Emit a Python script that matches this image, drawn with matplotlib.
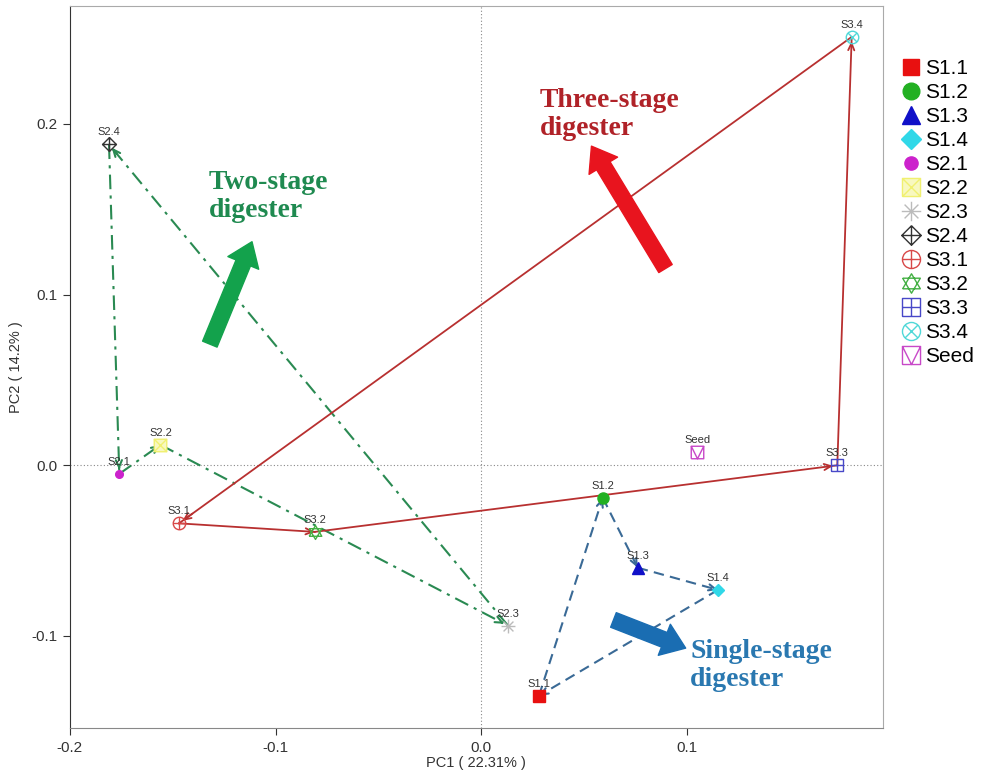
import matplotlib
matplotlib.use("Agg")
import matplotlib.pyplot as plt
from matplotlib.path import Path
from matplotlib.lines import Line2D
from matplotlib.ticker import FormatStrFormatter

plt.rcParams["font.family"] = ["Liberation Sans", "DejaVu Sans"]

# PCA scores for each sample
samples = ["S1.1", "S1.2", "S1.3", "S1.4", "S2.1", "S2.2", "S2.3", "S2.4",
           "S3.1", "S3.2", "S3.3", "S3.4", "Seed"]
pc1 = [0.028, 0.059, 0.076, 0.115, -0.176, -0.156, 0.013, -0.181,
       -0.147, -0.081, 0.173, 0.180, 0.105]
pc2 = [-0.135, -0.019, -0.060, -0.073, -0.005, 0.012, -0.094, 0.188,
       -0.034, -0.039, 0.000, 0.251, 0.008]

# sampling order of each digester
single_path = ["S1.1", "S1.2", "S1.3", "S1.4", "S1.1"]
two_path = ["S2.1", "S2.2", "S2.3", "S2.4", "S2.1"]
three_path = ["S3.1", "S3.2", "S3.3", "S3.4", "S3.1"]

x_ticks = [-0.2, -0.1, 0.0, 0.1]
y_ticks = [-0.1, 0.0, 0.1, 0.2]


def seg(*pts):
    verts, codes = [], []
    for i, p in enumerate(pts):
        verts.append(p)
        codes.append(Path.MOVETO if i == 0 else Path.LINETO)
    return Path(verts, codes)


def compound(*paths):
    return Path.make_compound_path(*paths)


square = seg((-1, -1), (1, -1), (1, 1), (-1, 1), (-1, -1))
circle = Path.unit_circle()
plus = compound(seg((-1, 0), (1, 0)), seg((0, -1), (0, 1)))
cross = compound(seg((-0.71, -0.71), (0.71, 0.71)), seg((-0.71, 0.71), (0.71, -0.71)))
sq_cross = compound(seg((-1, -1), (1, 1)), seg((-1, 1), (1, -1)))

m_boxx = compound(square, sq_cross)
m_star = compound(plus, cross)
m_diaplus = compound(seg((0, 1), (1, 0), (0, -1), (-1, 0), (0, 1)), plus)
m_circplus = compound(circle, plus)
m_hex = compound(seg((-1, -0.6), (1, -0.6), (0, 1.1), (-1, -0.6)),
                 seg((-1, 0.6), (1, 0.6), (0, -1.1), (-1, 0.6)))
m_sqplus = compound(square, plus)
m_circx = compound(circle, cross)
m_sqtri = compound(square, seg((-1, 1), (0, -1), (1, 1)))

# marker, colour, size, face
styles = {
    "S1.1": ("s", "#e81010", 8, "#e81010"),
    "S1.2": ("o", "#22b022", 8, "#22b022"),
    "S1.3": ("^", "#1010c8", 9, "#1010c8"),
    "S1.4": ("D", "#30d8e8", 6, "#30d8e8"),
    "S2.1": ("o", "#cc22cc", 5.5, "#cc22cc"),
    "S2.2": (m_boxx, "#f0f070", 9, "#f8f8c0"),
    "S2.3": (m_star, "#bbbbbb", 10, "none"),
    "S2.4": (m_diaplus, "#333333", 10, "none"),
    "S3.1": (m_circplus, "#d84848", 9, "none"),
    "S3.2": (m_hex, "#44b044", 10, "none"),
    "S3.3": (m_sqplus, "#4848c8", 9, "none"),
    "S3.4": (m_circx, "#50d8d8", 9, "none"),
    "Seed": (m_sqtri, "#c848c8", 9, "none"),
}

pos = {s: (x, y) for s, x, y in zip(samples, pc1, pc2)}

fig = plt.figure(figsize=(9.85, 7.73), dpi=100)
ax = fig.add_axes([0.071, 0.058, 0.825, 0.934])
ax.set_xlim(-0.2, 0.195)
ax.set_ylim(-0.154, 0.269)

ax.axhline(0, color="#888888", lw=0.8, ls=(0, (1, 2)), zorder=1)
ax.axvline(0, color="#888888", lw=0.8, ls=(0, (1, 2)), zorder=1)


def draw_path(order, color, ls, lw):
    for a, b in zip(order[:-1], order[1:]):
        (x0, y0), (x1, y1) = pos[a], pos[b]
        ax.plot([x0, x1], [y0, y1], color=color, ls=ls, lw=lw, zorder=2)
        ax.annotate("", xy=(x1, y1), xytext=(x1 - 0.02 * (x1 - x0), y1 - 0.02 * (y1 - y0)),
                    arrowprops=dict(arrowstyle="->,head_length=0.5,head_width=0.22",
                                    color=color, lw=lw, shrinkA=0, shrinkB=3),
                    zorder=3)


draw_path(single_path, "#3a6a96", (0, (5, 3)), 1.5)
draw_path(two_path, "#2a8a52", (0, (7, 3, 1.5, 3)), 1.5)
draw_path(three_path, "#b83030", "-", 1.3)

for s in samples:
    m, c, ms, face = styles[s]
    x, y = pos[s]
    ax.plot(x, y, marker=m, ms=ms, color=c, mfc=face,
            mec=c, mew=1.0, ls="none", zorder=4)
    ax.annotate(s, (x, y), xytext=(0, 5), textcoords="offset points",
                ha="center", va="bottom", fontsize=8, color="#333333", zorder=5)

# big arrows showing the direction of each digester
big = "simple,head_length=1.1,head_width=1.6,tail_width=0.75"
ax.annotate("", xy=(-0.1115, 0.131), xytext=(-0.132, 0.071),
            arrowprops=dict(arrowstyle=big, color="#13a24c", mutation_scale=15, shrinkA=0, shrinkB=0))
ax.annotate("", xy=(0.0535, 0.187), xytext=(0.0895, 0.1153),
            arrowprops=dict(arrowstyle=big, color="#e8141e", mutation_scale=15, shrinkA=0, shrinkB=0))
ax.annotate("", xy=(0.0993, -0.1071), xytext=(0.0642, -0.0906),
            arrowprops=dict(arrowstyle=big, color="#1a6db2", mutation_scale=15, shrinkA=0, shrinkB=0))

tfont = dict(family="Liberation Serif", fontweight="bold", fontsize=20,
             ha="left", va="top", linespacing=1.15)
ax.text(-0.1325, 0.173, "Two-stage\ndigester", color="#1f8a50", **tfont)
ax.text(0.0285, 0.221, "Three-stage\ndigester", color="#b02228", **tfont)
ax.text(0.1015, -0.102, "Single-stage\ndigester", color="#2a78b0", **tfont)

ax.set_xticks(x_ticks)
ax.set_yticks(y_ticks)
ax.xaxis.set_major_formatter(FormatStrFormatter("%.1f"))
ax.yaxis.set_major_formatter(FormatStrFormatter("%.1f"))
ax.tick_params(labelsize=11, colors="#333333", length=5, pad=4)
ax.set_xlabel("PC1 ( 22.31% )", fontsize=10.5, color="#333333", labelpad=1)
ax.set_ylabel("PC2 ( 14.2% )", fontsize=10.5, color="#333333", labelpad=6)
for side in ["top", "right"]:
    ax.spines[side].set_color("#aaaaaa")
ax.spines["left"].set_color("#333333")
ax.spines["bottom"].set_color("#888888")

handles = []
for s in samples:
    m, c, ms, face = styles[s]
    handles.append(Line2D([], [], marker=m, ms=ms + 4, color=c, mfc=face,
                          mec=c, mew=1.0, ls="none"))
fig.legend(handles, samples, loc="upper left", bbox_to_anchor=(0.905, 0.937),
           frameon=False, fontsize=15, handlelength=0.9, handletextpad=0.2,
           labelspacing=0.24, borderpad=0)

fig.savefig("out.png", dpi=100)
